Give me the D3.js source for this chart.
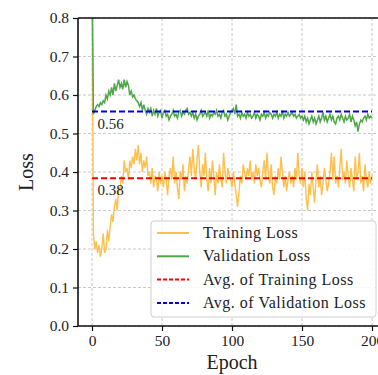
<!DOCTYPE html>
<html>
<head>
<meta charset="utf-8">
<script src="https://cdn.jsdelivr.net/npm/d3@7"></script>
<style>
  body { margin: 0; background: #fff; }
  svg { display: block; overflow: hidden; }
</style>
</head>
<body>
<div id="chart"></div>
<script>
// loss per epoch (epoch 0 runs off the top)
const trainLoss = [0.95,
  0.24, 0.20, 0.22, 0.19, 0.21, 0.18, 0.20, 0.24, 0.19, 0.20,
  0.25, 0.22, 0.26, 0.29, 0.27, 0.31, 0.33, 0.30, 0.36, 0.35,
  0.39, 0.37, 0.43, 0.40, 0.41, 0.38, 0.43, 0.41, 0.44, 0.42,
  0.46, 0.43, 0.47, 0.42, 0.45, 0.40, 0.43, 0.41, 0.44, 0.39,
  0.40, 0.37, 0.41, 0.36, 0.39, 0.38, 0.35, 0.40, 0.37, 0.39,
  0.36, 0.40, 0.38, 0.34, 0.39, 0.41, 0.38, 0.44, 0.37, 0.40,
  0.36, 0.33, 0.40, 0.38, 0.42, 0.35, 0.39, 0.37, 0.41, 0.44,
  0.39, 0.46, 0.41, 0.38, 0.43, 0.47, 0.40, 0.36, 0.42, 0.39,
  0.45, 0.38, 0.35, 0.41, 0.37, 0.43, 0.39, 0.34, 0.40, 0.37,
  0.42, 0.38, 0.36, 0.45, 0.40, 0.37, 0.41, 0.39, 0.38, 0.36,
  0.40, 0.37, 0.34, 0.31, 0.35, 0.39, 0.37, 0.42, 0.40, 0.38,
  0.41, 0.39, 0.43, 0.38, 0.40, 0.37, 0.42, 0.39, 0.41, 0.38,
  0.36, 0.40, 0.43, 0.38, 0.45, 0.39, 0.37, 0.42, 0.36, 0.34,
  0.39, 0.37, 0.41, 0.38, 0.44, 0.40, 0.36, 0.39, 0.35, 0.38,
  0.40, 0.37, 0.39, 0.36, 0.41, 0.38, 0.45, 0.39, 0.37, 0.41,
  0.36, 0.40, 0.33, 0.30, 0.37, 0.34, 0.40, 0.36, 0.32, 0.38,
  0.42, 0.36, 0.39, 0.34, 0.37, 0.41, 0.38, 0.35, 0.37, 0.40,
  0.45, 0.38, 0.44, 0.37, 0.39, 0.36, 0.41, 0.46, 0.38, 0.40,
  0.37, 0.43, 0.39, 0.36, 0.41, 0.38, 0.35, 0.44, 0.38, 0.40,
  0.45, 0.37, 0.39, 0.35, 0.42, 0.38, 0.36, 0.40, 0.37, 0.39]

const valLoss = [0.95,
  0.55, 0.56, 0.57, 0.575, 0.57, 0.58, 0.575, 0.585, 0.58, 0.60,
  0.59, 0.61, 0.60, 0.62, 0.60, 0.63, 0.61, 0.625, 0.64, 0.62,
  0.63, 0.615, 0.64, 0.62, 0.635, 0.625, 0.60, 0.61, 0.595, 0.60,
  0.59, 0.585, 0.58, 0.57, 0.58, 0.56, 0.575, 0.56, 0.55, 0.565,
  0.555, 0.565, 0.545, 0.56, 0.55, 0.565, 0.545, 0.555, 0.56, 0.54,
  0.555, 0.56, 0.545, 0.55, 0.535, 0.545, 0.55, 0.56, 0.545, 0.55,
  0.54, 0.555, 0.56, 0.545, 0.555, 0.55, 0.56, 0.565, 0.55, 0.555,
  0.545, 0.555, 0.54, 0.55, 0.535, 0.545, 0.55, 0.56, 0.545, 0.55,
  0.555, 0.545, 0.56, 0.54, 0.55, 0.545, 0.555, 0.55, 0.56, 0.545,
  0.55, 0.54, 0.555, 0.56, 0.545, 0.55, 0.535, 0.545, 0.555, 0.56,
  0.565, 0.55, 0.575, 0.545, 0.55, 0.54, 0.555, 0.545, 0.55, 0.54,
  0.555, 0.545, 0.55, 0.54, 0.545, 0.555, 0.54, 0.55, 0.545, 0.535,
  0.55, 0.545, 0.555, 0.54, 0.55, 0.545, 0.555, 0.55, 0.54, 0.55,
  0.545, 0.555, 0.54, 0.55, 0.545, 0.56, 0.54, 0.55, 0.545, 0.555,
  0.545, 0.55, 0.555, 0.545, 0.55, 0.54, 0.545, 0.55, 0.54, 0.545,
  0.535, 0.545, 0.53, 0.54, 0.525, 0.535, 0.545, 0.53, 0.54, 0.525,
  0.535, 0.545, 0.53, 0.54, 0.555, 0.535, 0.545, 0.53, 0.54, 0.55,
  0.535, 0.545, 0.53, 0.525, 0.54, 0.545, 0.535, 0.55, 0.54, 0.53,
  0.545, 0.535, 0.54, 0.55, 0.53, 0.545, 0.535, 0.52, 0.53, 0.505,
  0.525, 0.535, 0.53, 0.54, 0.545, 0.535, 0.55, 0.54, 0.545, 0.54]

const avgTrain = 0.384
const avgVal = 0.557
const avgLabels = ["0.38", "0.56"]
const xTicks = [0, 50, 100, 150, 200]
const yTicks = [0.0, 0.1, 0.2, 0.3, 0.4, 0.5, 0.6, 0.7, 0.8]
const legendNames = ["Training Loss", "Validation Loss", "Avg. of Training Loss", "Avg. of Validation Loss"]

const FONT = '"Liberation Serif", "DejaVu Serif", "Times New Roman", serif'
const W = 378, H = 375
const margin = {top: 18, left: 78, bottom: 49}
const plotW = 308, plotH = H - margin.top - margin.bottom

const svg = d3.select("#chart").append("svg")
  .attr("width", W).attr("height", H)

const x = d3.scaleLinear().domain([-10, 210]).range([margin.left, margin.left + plotW])
const y = d3.scaleLinear().domain([0, 0.8]).range([margin.top + plotH, margin.top])

svg.append("clipPath").attr("id", "clip")
  .append("rect")
    .attr("x", margin.left).attr("y", margin.top)
    .attr("width", plotW).attr("height", plotH)

// grid
const grid = svg.append("g")
grid.selectAll(".gx").data(xTicks).enter().append("line")
  .attr("x1", d => x(d)).attr("x2", d => x(d))
  .attr("y1", margin.top).attr("y2", margin.top + plotH)
  .attr("stroke", "#bdbdbd").attr("stroke-width", 0.8).attr("stroke-dasharray", "3,2")
grid.selectAll(".gy").data(yTicks).enter().append("line")
  .attr("x1", margin.left).attr("x2", margin.left + plotW)
  .attr("y1", d => y(d)).attr("y2", d => y(d))
  .attr("stroke", "#bdbdbd").attr("stroke-width", 0.8).attr("stroke-dasharray", "3,2")

const plot = svg.append("g").attr("clip-path", "url(#clip)")
const line = d3.line().x((d, i) => x(i)).y(d => y(d))

plot.append("path").datum(trainLoss)
  .attr("d", line).attr("fill", "none")
  .attr("stroke", "#ffbf4d").attr("stroke-width", 1.4)
plot.append("path").datum(valLoss)
  .attr("d", line).attr("fill", "none")
  .attr("stroke", "#4ea64a").attr("stroke-width", 1.5)

plot.append("line")
  .attr("x1", x(0)).attr("x2", x(200))
  .attr("y1", y(avgTrain)).attr("y2", y(avgTrain))
  .attr("stroke", "#f00").attr("stroke-width", 2).attr("stroke-dasharray", "6,3")
plot.append("line")
  .attr("x1", x(0)).attr("x2", x(200))
  .attr("y1", y(avgVal)).attr("y2", y(avgVal))
  .attr("stroke", "#0000ee").attr("stroke-width", 2).attr("stroke-dasharray", "6,3")

svg.append("text").attr("x", x(4)).attr("y", y(avgTrain) + 17)
  .attr("font-size", 15).text(avgLabels[0])
svg.append("text").attr("x", x(4)).attr("y", y(avgVal) + 17)
  .attr("font-size", 15).text(avgLabels[1])

// axes
const xAxis = svg.append("g")
  .attr("transform", `translate(0,${margin.top + plotH})`)
  .call(d3.axisBottom(x).tickValues(xTicks).tickSize(5).tickPadding(4).tickFormat(d3.format("d")))
const yAxis = svg.append("g")
  .attr("transform", `translate(${margin.left},0)`)
  .call(d3.axisLeft(y).tickValues(yTicks).tickSize(5).tickPadding(4).tickFormat(d3.format(".1f")))

for (const ax of [xAxis, yAxis]) {
  ax.attr("font-family", null)
  ax.select(".domain").attr("stroke", "#111").attr("stroke-width", 1.6)
  ax.selectAll(".tick line").attr("stroke", "#111").attr("stroke-width", 1.2)
  ax.selectAll(".tick text").attr("font-size", 15.5)
}
xAxis.select(".domain").attr("d", `M${margin.left},0H${margin.left + plotW}`)
yAxis.select(".domain").attr("d", `M0,${margin.top + plotH}V${margin.top}`)

svg.append("line")
  .attr("x1", margin.left).attr("x2", margin.left + plotW)
  .attr("y1", margin.top).attr("y2", margin.top)
  .attr("stroke", "#111").attr("stroke-width", 1.6)

svg.append("text")
  .attr("x", x(100)).attr("y", H - 6)
  .attr("text-anchor", "middle").attr("font-size", 20).text("Epoch")
svg.append("text")
  .attr("transform", `translate(33,${y(0.4)}) rotate(-90)`)
  .attr("text-anchor", "middle").attr("font-size", 20).text("Loss")

// legend
const legend = svg.append("g").attr("transform", "translate(151,221)")
legend.append("rect")
  .attr("width", 225).attr("height", 96).attr("rx", 3)
  .attr("fill", "#fff").attr("fill-opacity", 0.85)
  .attr("stroke", "#d0d0d0").attr("stroke-width", 1)
const styles = [
  {color: "#ffbf4d", dash: null},
  {color: "#4ea64a", dash: null},
  {color: "#f00", dash: "4,2"},
  {color: "#0000ee", dash: "4,2"}
]
legendNames.forEach((name, i) => {
  const yy = 12 + i * 23.3
  legend.append("line")
    .attr("x1", 6).attr("x2", 38).attr("y1", yy).attr("y2", yy)
    .attr("stroke", styles[i].color).attr("stroke-width", 2)
    .attr("stroke-dasharray", styles[i].dash)
  legend.append("text")
    .attr("x", 52).attr("y", yy + 5)
    .attr("font-size", 16).attr("letter-spacing", 0.5).text(name)
})

svg.selectAll("text")
  .style("font-family", FONT)
  .style("fill", "#222")
</script>
</body>
</html>
